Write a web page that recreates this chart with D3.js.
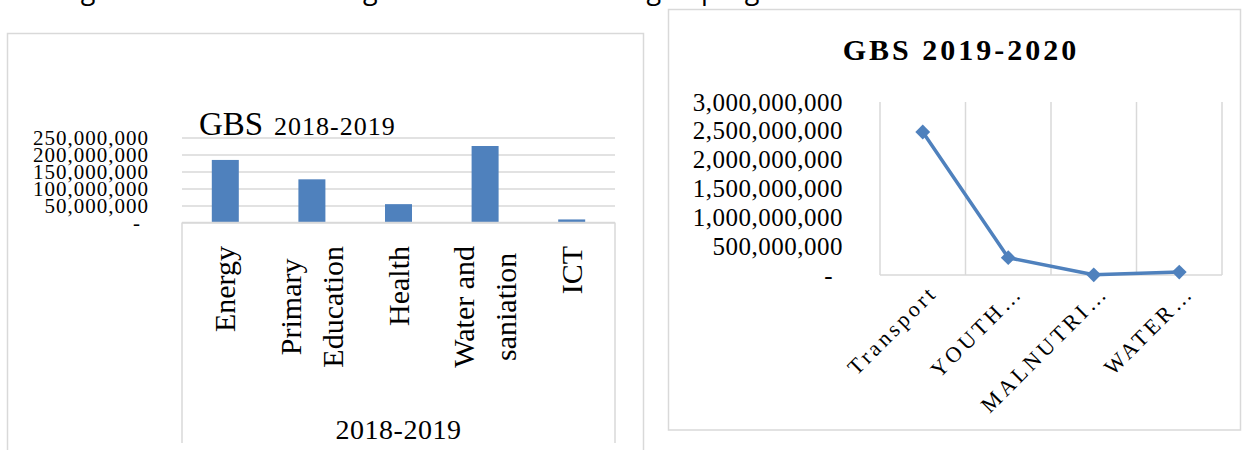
<!DOCTYPE html>
<html>
<head>
<meta charset="utf-8">
<script src="https://cdn.jsdelivr.net/npm/d3@7"></script>
<style>
  body { margin: 0; background: #fff; }
  svg { display: block; }
</style>
</head>
<body>
<div id="chart"></div>
<script>
// GBS 2018-2019 (left, bars)
const barCategories = ["Energy", "Primary\nEducation", "Health", "Water and\nsaniation", "ICT"]
const barValues = [184000000, 127000000, 54000000, 225000000, 9000000]
const barTicks = [0, 50000000, 100000000, 150000000, 200000000, 250000000]
const barGroup = "2018-2019"

// GBS 2019-2020 (right, line)
const lineCategories = ["Transport", "YOUTH…", "MALNUTRI…", "WATER…"]
const lineValues = [2480000000, 300000000, 3000000, 50000000]
const lineTicks = [0, 500000000, 1000000000, 1500000000, 2000000000, 2500000000, 3000000000]

const grey = "#d9d9d9", blue = "#4f81bd"
const serif = "'Liberation Serif', 'Times New Roman', serif"
const fmt = d => d === 0 ? "-" : d3.format(",")(d)

const svg = d3.select("#chart").append("svg")
    .attr("width", 1243)
    .attr("height", 450)

// caption of the page, cut off by the top edge
svg.append("text")
  .attr("x", 60)
  .attr("y", -1)
  .style("font-family", "'Open Sans', sans-serif")
  .style("font-size", "27px")
  .text("Figure 3 GBS Sector budget allocation according to programs")

// ---------- left chart ----------
svg.append("rect")
  .attr("x", 7.5).attr("y", 33.5)
  .attr("width", 636).attr("height", 440)
  .attr("fill", "none").attr("stroke", grey).attr("stroke-width", 1.5)

const x1 = d3.scaleBand().domain(barCategories).range([182, 615])
const y1 = d3.scaleLinear().domain([0, 250000000]).range([222.5, 137.5])

// gridlines
svg.append("g")
  .attr("transform", "translate(182,0)")
  .call(d3.axisLeft(y1).tickValues(barTicks).tickSize(-(615 - 182)).tickFormat(""))
  .call(g => g.select(".domain").remove())
  .call(g => g.selectAll("line").attr("stroke", grey).attr("stroke-width", 1.5))

// y labels
svg.append("g")
  .attr("transform", "translate(182,0)")
  .call(d3.axisLeft(y1).tickValues(barTicks).tickSize(0).tickPadding(33).tickFormat(fmt))
  .call(g => g.select(".domain").remove())
  .call(g => g.selectAll("text")
      .attr("fill", "#000")
      .style("font-family", serif)
      .style("font-size", "21px")
      .style("letter-spacing", "1px")
      .attr("dy", "0.32em"))
  .call(g => g.selectAll(".tick").filter(d => d === 0).select("text").attr("dx", -8))

// bars
const barW = 27
svg.append("g")
  .selectAll("rect")
  .data(barValues)
  .join("rect")
    .attr("x", (d, i) => x1(barCategories[i]) + x1.bandwidth() / 2 - barW / 2)
    .attr("y", d => y1(d))
    .attr("width", barW)
    .attr("height", d => y1(0) - y1(d))
    .attr("fill", blue)

// category axis box
svg.append("line").attr("x1", 182).attr("x2", 615).attr("y1", 222.5).attr("y2", 222.5)
  .attr("stroke", grey).attr("stroke-width", 1.5)
svg.selectAll(".sep")
  .data([182, 615])
  .join("line")
    .attr("x1", d => d).attr("x2", d => d)
    .attr("y1", 222.5).attr("y2", 443)
    .attr("stroke", grey).attr("stroke-width", 1.5)

// rotated category labels (top-aligned block, lines centred on each other)
const catTop = 246, lineGap = 42
const labels = svg.append("g").selectAll("text")
  .data(barCategories)
  .join("text")
    .attr("transform", d => "translate(" + (x1(d) + x1.bandwidth() / 2) + ",0) rotate(-90)")
    .attr("text-anchor", "middle")
    .style("font-family", serif)
    .style("font-size", "30px")
labels.each(function(d) {
  const lines = d.split("\n")
  const t = d3.select(this)
  lines.forEach((s, i) => {
    t.append("tspan")
      .attr("y", 10 - (lines.length - 1) * lineGap / 2 + i * lineGap)
      .text(s)
  })
  const maxLen = d3.max(t.selectAll("tspan").nodes(), n => n.getComputedTextLength())
  t.selectAll("tspan").attr("x", -(catTop + maxLen / 2))
})

svg.append("text")
  .attr("x", (182 + 615) / 2)
  .attr("y", 439)
  .attr("text-anchor", "middle")
  .style("font-family", serif)
  .style("font-size", "28px")
  .style("letter-spacing", "0.5px")
  .text(barGroup)

// title
const t1 = svg.append("text").attr("y", 135).style("font-family", serif)
t1.append("tspan").attr("x", 199).style("font-size", "33px").text("GBS")
t1.append("tspan").attr("x", 274).style("font-size", "26px").style("letter-spacing", "1px").text("2018-2019")

// ---------- right chart ----------
svg.append("rect")
  .attr("x", 668.5).attr("y", 9.5)
  .attr("width", 572).attr("height", 420.5)
  .attr("fill", "none").attr("stroke", grey).attr("stroke-width", 1.5)

svg.append("text")
  .attr("x", 961)
  .attr("y", 60)
  .attr("text-anchor", "middle")
  .style("font-family", serif)
  .style("font-weight", "bold")
  .style("font-size", "30px")
  .style("letter-spacing", "3px")
  .text("GBS 2019-2020")

const x2 = d3.scaleBand().domain(lineCategories).range([880, 1222])
const y2 = d3.scaleLinear().domain([0, 3000000000]).range([275, 102])

// vertical gridlines between categories
const bounds = lineCategories.map(c => x2(c)).concat([x2.range()[1]])
svg.append("g").selectAll("line")
  .data(bounds)
  .join("line")
    .attr("x1", d => d).attr("x2", d => d)
    .attr("y1", y2(3000000000)).attr("y2", y2(0))
    .attr("stroke", grey).attr("stroke-width", 1.5)
svg.append("line").attr("x1", 880).attr("x2", 1222).attr("y1", y2(0)).attr("y2", y2(0))
  .attr("stroke", grey).attr("stroke-width", 1.5)

svg.append("g")
  .attr("transform", "translate(880,0)")
  .call(d3.axisLeft(y2).tickValues(lineTicks).tickSize(0).tickPadding(37).tickFormat(fmt))
  .call(g => g.select(".domain").remove())
  .call(g => g.selectAll("text")
      .attr("fill", "#000")
      .style("font-family", serif)
      .style("font-size", "25px")
      .style("letter-spacing", "0.5px")
      .attr("dy", "0.32em"))
  .call(g => g.selectAll(".tick").filter(d => d === 0).select("text").attr("dx", -10))

// x labels at -45 degrees
svg.append("g").selectAll("text")
  .data(lineCategories)
  .join("text")
    .attr("transform", d => "translate(" + (x2(d) + x2.bandwidth() / 2 + 16) + ",294) rotate(-45)")
    .attr("text-anchor", "end")
    .style("font-family", serif)
    .style("font-size", "22px")
    .style("letter-spacing", "3.5px")
    .text(d => d)

const cx = (d, i) => x2(lineCategories[i]) + x2.bandwidth() / 2
svg.append("path")
  .datum(lineValues)
  .attr("fill", "none")
  .attr("stroke", blue)
  .attr("stroke-width", 3.5)
  .attr("stroke-linejoin", "round")
  .attr("d", d3.line().x(cx).y(d => y2(d)))

svg.append("g").selectAll("path")
  .data(lineValues)
  .join("path")
    .attr("transform", (d, i) => "translate(" + cx(d, i) + "," + y2(d) + ") rotate(45)")
    .attr("d", d3.symbol(d3.symbolSquare, 110))
    .attr("fill", blue)
</script>
</body>
</html>
